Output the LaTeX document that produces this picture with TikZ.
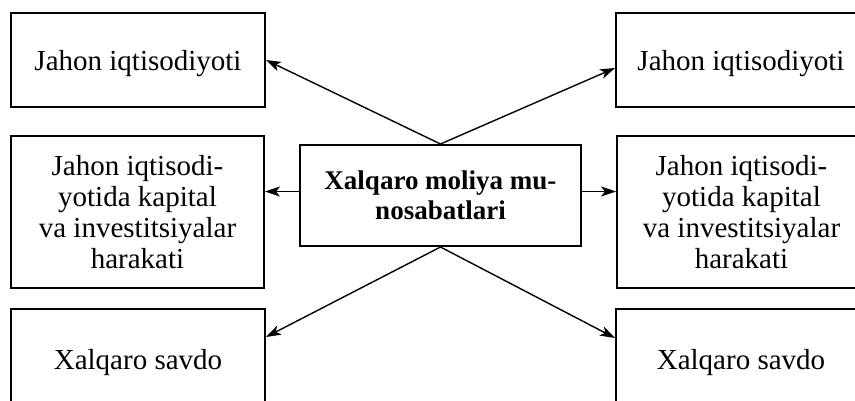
\documentclass[tikz,border=0pt]{standalone}
\usepackage{fontspec}
\setmainfont{Liberation Serif}
\usetikzlibrary{arrows.meta,calc}
\begin{document}
\begin{tikzpicture}[x=1pt,y=-1pt,
  box/.style={draw, line width=2pt, align=center, inner sep=0pt,
    font=\fontsize{29}{31}\selectfont},
  oneline/.style={text height=20pt, text depth=0pt},
  arr/.style={-{Stealth[length=15pt,width=10pt,inset=4pt]}, line width=1.4pt}]
\useasboundingbox (0,0) rectangle (855,400);
\clip (0,0) rectangle (855,400);
% left column
\node[box, oneline, minimum width=254pt, minimum height=94pt] (L1) at (138,60) {Jahon iqtisodiyoti};
\node[box, minimum width=253pt, minimum height=152pt] (L2) at (137.5,212) {Jahon iqtisodi-\\yotida kapital\\va investitsiyalar\\harakati};
\node[box, oneline, minimum width=254pt, minimum height=101pt] (L3) at (138,359.5) {Xalqaro savdo};
% right column
\node[box, oneline, minimum width=250pt, minimum height=94pt] (R1) at (741,60) {Jahon iqtisodiyoti};
\node[box, minimum width=249pt, minimum height=152pt] (R2) at (741.5,212) {Jahon iqtisodi-\\yotida kapital\\va investitsiyalar\\harakati};
\node[box, oneline, minimum width=250pt, minimum height=101pt] (R3) at (741,359.5) {Xalqaro savdo};
% centre
\node[box, minimum width=281pt, minimum height=101pt,
  font=\fontsize{27}{30}\selectfont\bfseries] (C) at (440.5,195.5) {Xalqaro moliya mu-\\nosabatlari};
% arrow end points
\coordinate (tr) at ([yshift=-8pt]R1.west);
\coordinate (bl) at ([yshift=-29pt]L3.north east);
\coordinate (br) at ([yshift=-30pt]R3.north west);
\coordinate (ml) at ([yshift=4pt]C.west);
\coordinate (mr) at ([yshift=4pt]C.east);
% connectors
\draw[arr] (C.north) -- (L1.east);
\draw[arr] (C.north) -- (tr);
\draw[arr] (ml) -- (ml -| L2.east);
\draw[arr] (mr) -- (mr -| R2.west);
\draw[arr] (C.south) -- (bl);
\draw[arr] (C.south) -- (br);
\end{tikzpicture}
\end{document}
